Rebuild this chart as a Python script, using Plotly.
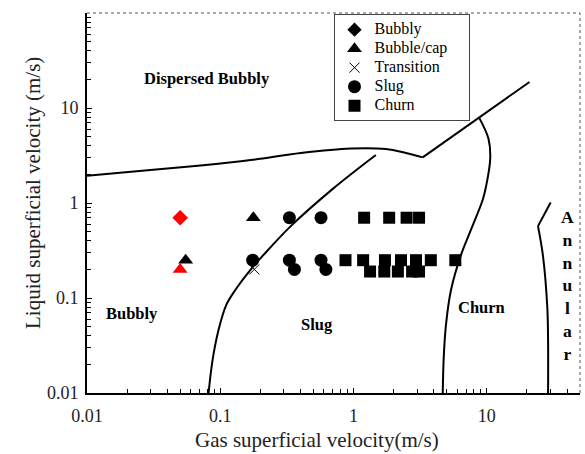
import math
import plotly.graph_objects as go

# ---------------- data ----------------
bubbly_x = [0.05]
bubbly_y = [0.7]

cap_black_x = [0.055, 0.177]
cap_black_y = [0.25, 0.7]
cap_red_x = [0.05]
cap_red_y = [0.2]

trans_x = [0.18]
trans_y = [0.2]

slug_x = [0.33, 0.57, 0.175, 0.33, 0.36, 0.57, 0.62]
slug_y = [0.7, 0.7, 0.25, 0.25, 0.2, 0.25, 0.2]

churn_x = [1.2, 1.85, 2.5, 3.1,
           0.87, 1.18, 1.72, 2.27, 2.94, 3.8, 5.8,
           1.33, 1.7, 2.15, 2.75, 3.1]
churn_y = [0.7, 0.7, 0.7, 0.7,
           0.25, 0.25, 0.25, 0.25, 0.25, 0.25, 0.25,
           0.19, 0.19, 0.19, 0.19, 0.19]

# transition boundaries
disp_curve_x = [0.01, 0.0299, 0.0711, 0.169, 0.402, 0.955, 1.75, 2.47, 3.30]
disp_curve_y = [1.94, 2.22, 2.48, 2.83, 3.36, 3.75, 3.70, 3.36, 3.02]
disp_line_x = [3.30, 20.9]
disp_line_y = [3.02, 18.8]

slug_bd_x = [0.0817, 0.0875, 0.097, 0.111, 0.130, 0.169, 0.212, 0.338, 0.695, 1.47]
slug_bd_y = [0.01, 0.0222, 0.0461, 0.0847, 0.122, 0.199, 0.286, 0.571, 1.40, 3.20]

churn_bd_x = [8.71, 10.3, 10.6, 9.88, 9.33, 7.62, 6.41, 5.39, 4.95, 4.75, 4.67]
churn_bd_y = [8.01, 4.72, 2.90, 1.51, 1.09, 0.527, 0.286, 0.122, 0.0542, 0.0240, 0.01]

ann_top_x = [30.1, 24.2]
ann_top_y = [1.01, 0.571]
ann_bd_x = [24.2, 26.4, 28.4, 28.8, 28.8]
ann_bd_y = [0.571, 0.275, 0.0813, 0.0362, 0.01]

tick_vals = [0.01, 0.1, 1, 10]
tick_text = ["0.01", "0.1", "1", "10"]

regions = ["Dispersed Bubbly", "Bubbly", "Slug", "Churn"]
region_x = [0.080, 0.0216, 0.533, 9.06]
region_y = [20.3, 0.068, 0.053, 0.0787]

# ---------------- figure ----------------
SERIF = "Liberation Serif, Times New Roman, serif"
fig = go.Figure()

line_style = dict(color="black", width=2)
for xs, ys, shape in [(disp_curve_x, disp_curve_y, "spline"),
                      (disp_line_x, disp_line_y, "linear"),
                      (slug_bd_x, slug_bd_y, "spline"),
                      (churn_bd_x, churn_bd_y, "spline"),
                      (ann_top_x, ann_top_y, "linear"),
                      (ann_bd_x, ann_bd_y, "spline")]:
    fig.add_trace(go.Scatter(x=xs, y=ys, mode="lines", line=dict(shape=shape, **line_style),
                             showlegend=False, hoverinfo="skip"))

def lg(name, pad=0):
    return "<span style='font-size:16px'>%s%s</span>" % (name, "\u00a0" * pad)

# legend entries (black symbols)
fig.add_trace(go.Scatter(x=[None], y=[None], mode="markers", name=lg("Bubbly"),
                         marker=dict(symbol="diamond", size=11, color="black")))
fig.add_trace(go.Scatter(x=cap_black_x, y=cap_black_y, mode="markers", name=lg("Bubble/cap", 4),
                         marker=dict(symbol="triangle-up", size=13, color="black")))
fig.add_trace(go.Scatter(x=trans_x, y=trans_y, mode="markers", name=lg("Transition"),
                         marker=dict(symbol="x-thin-open", size=10, color="black",
                                     line=dict(color="black", width=1))))
fig.add_trace(go.Scatter(x=slug_x, y=slug_y, mode="markers", name=lg("Slug"),
                         marker=dict(symbol="circle", size=13, color="black")))
fig.add_trace(go.Scatter(x=churn_x, y=churn_y, mode="markers", name=lg("Churn"),
                         marker=dict(symbol="square", size=12, color="black")))
# red markers
fig.add_trace(go.Scatter(x=bubbly_x, y=bubbly_y, mode="markers", showlegend=False,
                         marker=dict(symbol="diamond", size=12, color="red")))
fig.add_trace(go.Scatter(x=cap_red_x, y=cap_red_y, mode="markers", showlegend=False,
                         marker=dict(symbol="triangle-up", size=13, color="red")))

for t, x, y in zip(regions, region_x, region_y):
    fig.add_annotation(x=math.log10(x), y=math.log10(y), xref="x", yref="y",
                       text="<b>%s</b>" % t,
                       showarrow=False, font=dict(family=SERIF, size=16.5, color="black"))
fig.add_annotation(x=1.0, y=math.log10(0.135), xref="x domain", yref="y", xanchor="right",
                   text="<b>A<br>n<br>n<br>u<br>l<br>a<br>r</b>", showarrow=False,
                   xshift=-4, font=dict(family=SERIF, size=17.5, color="black"))

W, H = 585, 454
ML, MR, MT, MB = 87, 5, 13, 61
PW, PH = W - ML - MR, H - MT - MB

def px2paper(px, py):
    return (px - ML) / PW, 1 - (py - MT) / PH

# axis titles (positioned by pixel)
tx, ty = px2paper(317, 440)
fig.add_annotation(x=tx, y=ty, xref="paper", yref="paper", xanchor="center", yanchor="middle",
                   text="Gas superficial velocity(m/s)",
                   showarrow=False, font=dict(family=SERIF, size=21, color="#222"))
tx, ty = px2paper(33, 193)
fig.add_annotation(x=tx, y=ty, xref="paper", yref="paper", xanchor="center", yanchor="middle",
                   text="Liquid superficial velocity (m/s)",
                   textangle=-90, showarrow=False, font=dict(family=SERIF, size=21, color="#222"))

axis_common = dict(type="log", showgrid=False, zeroline=False, showline=True,
                   linecolor="black", linewidth=2, ticks="inside", ticklen=5,
                   tickwidth=1, tickcolor="black",
                   tickvals=tick_vals, ticktext=tick_text,
                   tickfont=dict(family=SERIF, size=18, color="#222"),
                   minor=dict(ticks="inside", ticklen=4, tickwidth=1, tickcolor="black",
                              dtick="D1", showgrid=False))
fig.update_xaxes(range=[-2, 1.699], ticklabelstandoff=5, **axis_common)
fig.update_yaxes(range=[-2, 2], ticklabelstandoff=3, **axis_common)

# dotted top / right frame
fig.add_shape(type="line", xref="paper", yref="paper", x0=0, x1=1, y0=1, y1=1,
              line=dict(color="#555", width=1, dash="dot"))
fig.add_shape(type="line", xref="paper", yref="paper", x0=1, x1=1, y0=0, y1=1,
              line=dict(color="#555", width=1, dash="dot"))

fig.update_layout(
    width=W, height=H,
    margin=dict(l=ML, r=MR, t=MT, b=MB),
    paper_bgcolor="white", plot_bgcolor="white",
    font=dict(family=SERIF, size=16, color="black"),
    legend=dict(x=0.5, y=0.997, xanchor="left", yanchor="top",
                bgcolor="white", bordercolor="#444", borderwidth=1,
                font=dict(family=SERIF, size=11.5, color="black"),
                tracegroupgap=0, itemwidth=30),
)

fig.write_html("out.html")
